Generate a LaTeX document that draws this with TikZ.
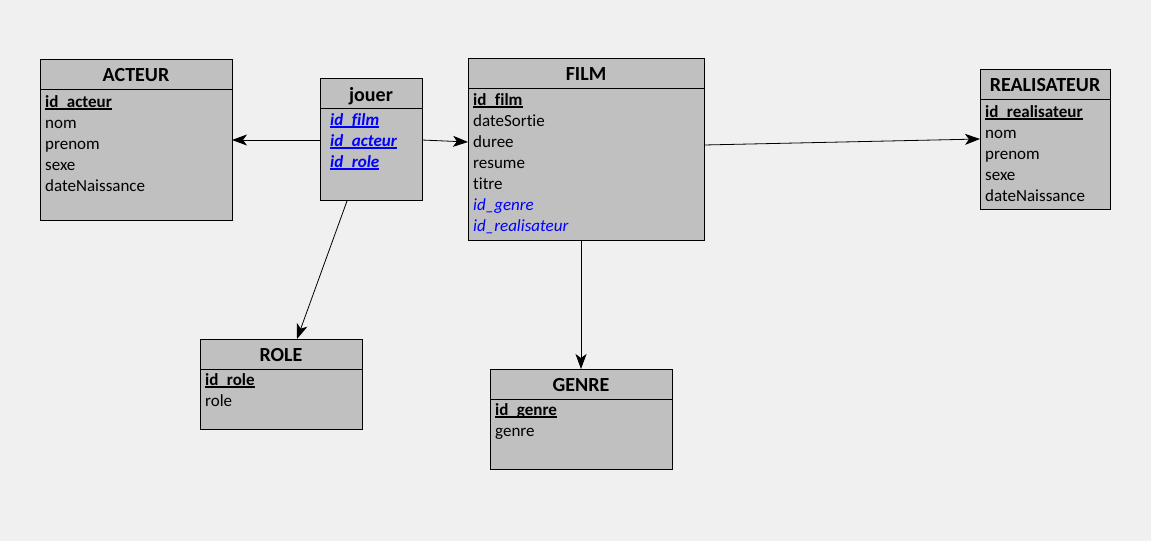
\documentclass[tikz,border=0pt]{standalone}
\usepackage{fontspec}
\setmainfont{Carlito}[Ligatures=NoCommon]
\usetikzlibrary{calc,arrows.meta}

\definecolor{bgcol}{HTML}{F0F0F0}
\definecolor{boxgray}{HTML}{C0C0C0}
\definecolor{fkblue}{HTML}{0000FF}

% primary key: bold text with a thick underline just below the baseline
\newcommand\pk[1]{\setbox0\hbox{\bfseries #1}\rlap{\rule[-2.6pt]{\wd0}{1.3pt}}\box0}
% foreign key: blue italic
\newcommand\fk[1]{\textcolor{fkblue}{\itshape #1}}
% key that is both: blue bold italic underlined
\newcommand\pfk[1]{\setbox0\hbox{\color{fkblue}\bfseries\itshape #1}{\color{fkblue}\rlap{\rule[-2.6pt]{\wd0}{1.3pt}}}\box0}

\tikzset{
  ent/.style={draw=black, fill=boxgray, line width=1pt, anchor=north west,
              inner sep=0pt, outer sep=0pt},
  ttl/.style={anchor=base, inner sep=0pt, font=\fontsize{20}{22}\selectfont\bfseries},
  attr/.style={anchor=base west, inner sep=0pt, font=\fontsize{17}{20}\selectfont},
  sep/.style={line width=1pt},
  conn/.style={line width=0.8pt, -{Stealth[length=15pt,width=11pt,inset=4pt]}}
}

\begin{document}
\begin{tikzpicture}[x=1pt,y=-1pt]
  \fill[bgcol] (0,0) rectangle (1151,541);
  \useasboundingbox (0,0) rectangle (1151,541);

  % ---------- ACTEUR ----------
  \node[ent, minimum width=192pt, minimum height=161pt] (acteur) at (40,59) {};
  \draw[sep] ($(acteur.north west)+(0,30)$) -- ($(acteur.north east)+(0,30)$);
  \node[ttl] (acteur-t) at ($(acteur.north)+(0,22)$) {ACTEUR};
  \foreach \t [count=\i] in {\pk{id\_acteur}, nom, prenom, sexe, dateNaissance}
    \node[attr] (acteur-\i) at ($(acteur.north west)+(5,27+21*\i)$) {\t};

  % ---------- jouer ----------
  \node[ent, minimum width=102pt, minimum height=122pt] (jouer) at (320,78) {};
  \draw[sep] ($(jouer.north west)+(0,30)$) -- ($(jouer.north east)+(0,30)$);
  \node[ttl] (jouer-t) at ($(jouer.north)+(0,23)$) {jouer};
  \foreach \t [count=\i] in {\pfk{id\_film}, \pfk{id\_acteur}, \pfk{id\_role}}
    \node[attr] (jouer-\i) at ($(jouer.north west)+(10,26+21*\i)$) {\t};

  % ---------- FILM ----------
  \node[ent, minimum width=236pt, minimum height=182pt] (film) at (468,58) {};
  \draw[sep] ($(film.north west)+(0,30)$) -- ($(film.north east)+(0,30)$);
  \node[ttl] (film-t) at ($(film.north)+(0,22)$) {FILM};
  \foreach \t [count=\i] in {\pk{id\_film}, dateSortie, duree, resume, titre,
                             \fk{id\_genre}, \fk{id\_realisateur}}
    \node[attr] (film-\i) at ($(film.north west)+(5,26+21*\i)$) {\t};

  % ---------- REALISATEUR ----------
  \node[ent, minimum width=130pt, minimum height=140pt] (real) at (980,69) {};
  \draw[sep] ($(real.north west)+(0,30)$) -- ($(real.north east)+(0,30)$);
  \node[ttl] (real-t) at ($(real.north)+(0,22)$) {REALISATEUR};
  \foreach \t [count=\i] in {\pk{id\_realisateur}, nom, prenom, sexe, dateNaissance}
    \node[attr] (real-\i) at ($(real.north west)+(5,27+21*\i)$) {\t};

  % ---------- ROLE ----------
  \node[ent, minimum width=162pt, minimum height=90pt] (role) at (200,339) {};
  \draw[sep] ($(role.north west)+(0,30)$) -- ($(role.north east)+(0,30)$);
  \node[ttl] (role-t) at ($(role.north)+(0,22)$) {ROLE};
  \foreach \t [count=\i] in {\pk{id\_role}, role}
    \node[attr] (role-\i) at ($(role.north west)+(5,25+21*\i)$) {\t};

  % ---------- GENRE ----------
  \node[ent, minimum width=182pt, minimum height=100pt] (genre) at (490,369) {};
  \draw[sep] ($(genre.north west)+(0,30)$) -- ($(genre.north east)+(0,30)$);
  \node[ttl] (genre-t) at ($(genre.north)+(0,22)$) {GENRE};
  \foreach \t [count=\i] in {\pk{id\_genre}, genre}
    \node[attr] (genre-\i) at ($(genre.north west)+(5,25+21*\i)$) {\t};

  % ---------- links ----------
  \draw[conn] ($(jouer.north west)+(0,62)$) -- ($(acteur.north east)+(0,81)$);
  \draw[conn] ($(jouer.north east)+(0,62)$) -- ($(film.north west)+(0,84)$);
  \draw[conn] ($(jouer.south west)+(27,1)$) -- ($(role.north west)+(97,0)$);
  \draw[conn] ($(film.north east)+(0,87)$) -- ($(real.north west)+(0,70)$);
  \draw[conn] ($(film.south west)+(113,0)$) -- ($(genre.north west)+(91,0)$);
\end{tikzpicture}
\end{document}
